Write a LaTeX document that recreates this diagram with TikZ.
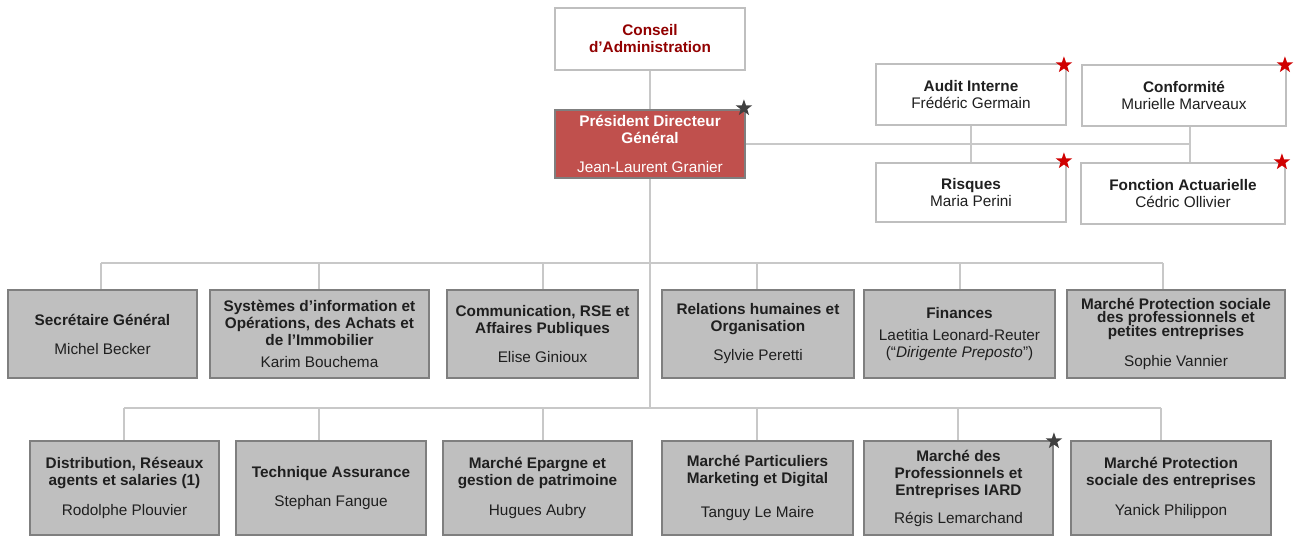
\documentclass[tikz,border=0pt]{standalone}
\usepackage{fontspec}
\setmainfont{Liberation Sans}
\usepackage{tikz}
\usetikzlibrary{shapes.geometric}
\definecolor{boxgrey}{HTML}{BFBFBF}
\definecolor{edgegrey}{HTML}{7F7F7F}
\definecolor{linegrey}{HTML}{C8C8C8}
\definecolor{pdgred}{HTML}{C0504D}
\definecolor{boardred}{HTML}{920000}
\definecolor{starred}{HTML}{D00000}
\definecolor{stargrey}{HTML}{404040}
\tikzstyle{unit}=[draw=edgegrey,fill=boxgrey,line width=1.4pt,align=center,text=black!88,inner sep=0pt]
\tikzstyle{ctrl}=[draw=boxgrey,fill=white,line width=1.4pt,align=center,text=black!88,inner sep=0pt]
\tikzstyle{chief}=[unit,fill=pdgred,text=white]
\tikzstyle{link}=[draw=linegrey,line width=1.3pt]
\tikzstyle{redstar}=[star,star points=5,star point ratio=2.5,fill=starred,minimum size=13pt,inner sep=0pt]
\tikzstyle{greystar}=[redstar,fill=stargrey]

\begin{document}
\begin{tikzpicture}[x=0.75pt,y=-0.75pt,
  every node/.style={font=\fontsize{11.5}{12.75}\selectfont}]

  \useasboundingbox (0,0) rectangle (1294,536);
  \fill[white] (0,0) rectangle (1294,536);

  % board and general management
  \node[ctrl,text=boardred,minimum width=142.5pt,minimum height=46.5pt] (board) at (650,39)
    {\textbf{Conseil}\\\textbf{d’Administration}};
  \node[chief,minimum width=142.5pt,minimum height=51pt] (pdg) at (650,144)
    {\textbf{Président Directeur}\\\textbf{Général}\\[9pt]Jean-Laurent Granier};

  % control functions
  \foreach \pos/\w/\h/\name/\txt in {
    {(971,94.5)/190/61/audit/{\textbf{Audit Interne}\\Frédéric Germain}},
    {(1184,95.5)/204/61/conf/{\textbf{Conformité}\\Murielle Marveaux}},
    {(971,192.5)/190/59/risk/{\textbf{Risques}\\Maria Perini}},
    {(1183,193.5)/204/61/actu/{\textbf{Fonction Actuarielle}\\Cédric Ollivier}}}
    \node[ctrl,minimum width=\w*0.75pt,minimum height=\h*0.75pt] (\name) at \pos {\txt};

  % first row of directions
  \foreach \pos/\w/\name/\txt in {
    {(102.5,334)/189/sg/{\textbf{Secrétaire Général}\\[9pt]Michel Becker}},
    {(319.5,334)/219/si/{\textbf{Systèmes d’information et}\\\textbf{Opérations, des Achats et}\\\textbf{de l’Immobilier}\\[3.75pt]Karim Bouchema}},
    {(542.5,334)/191/com/{\textbf{Communication, RSE et}\\\textbf{Affaires Publiques}\\[9pt]Elise Ginioux}},
    {(758,334)/192/rh/{\textbf{Relations humaines et}\\\textbf{Organisation}\\[9pt]Sylvie Peretti}},
    {(959.5,334)/191/fin/{\textbf{Finances}\\[3.75pt]Laetitia Leonard-Reuter\\(“\textit{Dirigente Preposto}”)}},
    {(1176,334)/218/ppe/{\textbf{Marché Protection sociale}\\[-2.6pt]\textbf{des professionnels et}\\[-2.6pt]\textbf{petites entreprises}\\[10pt]Sophie Vannier}}}
    \node[unit,minimum width=\w*0.75pt,minimum height=66pt] (\name) at \pos {\txt};

  % second row of directions
  \foreach \pos/\w/\name/\txt in {
    {(124.5,488)/189/dist/{\textbf{Distribution, Réseaux}\\\textbf{agents et salaries (1)}\\[9.75pt]Rodolphe Plouvier}},
    {(331,488)/190/tech/{\textbf{Technique Assurance}\\[9pt]Stephan Fangue}},
    {(537.5,488)/189/epar/{\textbf{Marché Epargne et}\\\textbf{gestion de patrimoine}\\[9.75pt]Hugues Aubry}},
    {(757.5,488)/191/part/{\textbf{Marché Particuliers}\\\textbf{Marketing et Digital}\\[12.75pt]Tanguy Le Maire}},
    {(958.5,488)/189/pro/{\textbf{Marché des}\\\textbf{Professionnels et}\\\textbf{Entreprises IARD}\\[8.25pt]Régis Lemarchand}},
    {(1171,488)/200/pse/{\textbf{Marché Protection}\\\textbf{sociale des entreprises}\\[9.75pt]Yanick Philippon}}}
    \node[unit,minimum width=\w*0.75pt,minimum height=70.5pt] (\name) at \pos {\txt};

  % stars
  \node[greystar] (s-pdg) at ([shift={(-2,-1)}]pdg.north east) {};
  \node[redstar] (s-audit) at ([shift={(-3,2)}]audit.north east) {};
  \node[redstar] (s-conf) at ([shift={(-2,1)}]conf.north east) {};
  \node[redstar] (s-risk) at ([shift={(-3,-1)}]risk.north east) {};
  \node[redstar] (s-actu) at ([shift={(-4,0)}]actu.north east) {};
  \node[greystar] (s-pro) at ([shift={(0,1)}]pro.north east) {};

  % links
  \coordinate (hub) at (1190,144);
  \path[link] (board) -- (pdg);
  \path[link] (pdg.east) -- (hub);
  \path[link] (audit) -- (risk);
  \path[link] (conf.south -| hub) -- (actu.north -| hub);

  \foreach \x/\b in {101/sg,319/si,543/com,757/rh,960/fin,1163/ppe}{
    \coordinate (\b-up) at (\x,263);
    \path[link] (\b-up) -- (\b-up |- \b.north);
  }
  \foreach \x/\b in {124/dist,319/tech,543/epar,757/part,958/pro,1161/pse}{
    \coordinate (\b-up) at (\x,408);
    \path[link] (\b-up) -- (\b-up |- \b.north);
  }
  \path[link] (sg-up) -- (ppe-up);
  \path[link] (dist-up) -- (pse-up);
  \path[link] (pdg.south) -- (pdg.south |- dist-up);
\end{tikzpicture}
\end{document}
